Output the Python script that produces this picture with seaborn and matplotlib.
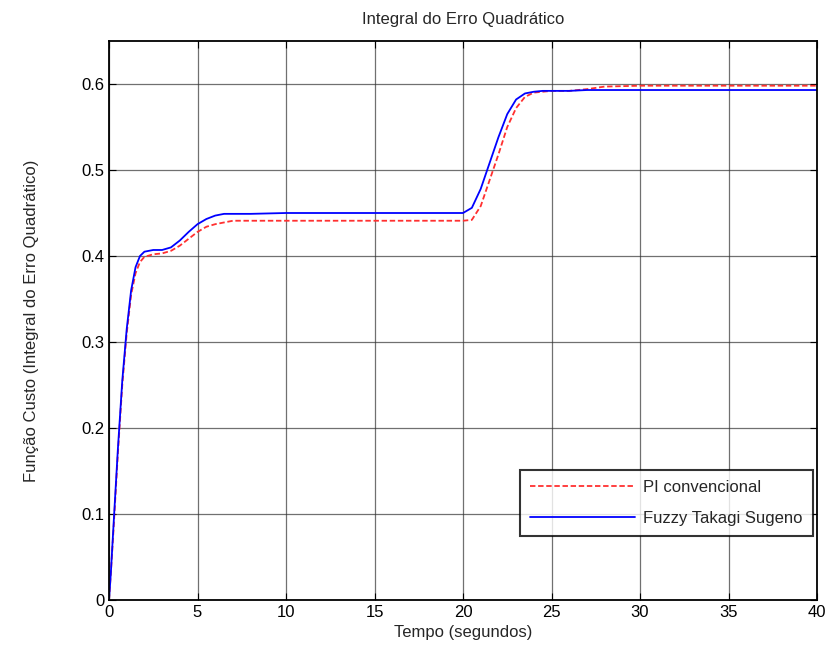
import numpy as np
import pandas as pd
import matplotlib
matplotlib.use("Agg")
import matplotlib.pyplot as plt
import seaborn as sns

# Data
tempo = [0, 0.1, 0.25, 0.5, 0.75, 1.0, 1.25, 1.5, 1.75, 2.0, 2.5, 3.0, 3.5, 4.0,
         4.5, 5.0, 5.5, 6.0, 6.5, 7.0, 8, 10, 15, 20, 20.5, 21, 21.5, 22, 22.5,
         23, 23.5, 24, 24.5, 25, 26, 27, 28, 30, 35, 40]
pi_convencional = [0, 0.03, 0.08, 0.17, 0.25, 0.31, 0.355, 0.38, 0.393, 0.399,
                   0.402, 0.403, 0.406, 0.412, 0.42, 0.428, 0.434, 0.437, 0.439,
                   0.441, 0.441, 0.441, 0.441, 0.441, 0.442, 0.458, 0.488, 0.518,
                   0.55, 0.572, 0.585, 0.59, 0.591, 0.592, 0.592, 0.594, 0.597,
                   0.598, 0.598, 0.598]
fuzzy_ts = [0, 0.03, 0.085, 0.175, 0.255, 0.315, 0.36, 0.387, 0.4, 0.405, 0.407,
            0.407, 0.41, 0.418, 0.428, 0.437, 0.443, 0.447, 0.449, 0.449, 0.449,
            0.450, 0.450, 0.450, 0.456, 0.478, 0.508, 0.538, 0.565, 0.582, 0.589,
            0.591, 0.592, 0.592, 0.592, 0.593, 0.593, 0.593, 0.593, 0.593]
series_names = ["PI convencional", "Fuzzy Takagi Sugeno"]
x_ticks = [0, 5, 10, 15, 20, 25, 30, 35, 40]
y_ticks = [0, 0.1, 0.2, 0.3, 0.4, 0.5, 0.6]
y_tick_labels = ["0", "0.1", "0.2", "0.3", "0.4", "0.5", "0.6"]

df = pd.DataFrame({
    "t": tempo + tempo,
    "v": pi_convencional + fuzzy_ts,
    "serie": [series_names[0]] * len(tempo) + [series_names[1]] * len(tempo),
})

sns.set_style("ticks")
plt.rcParams["font.family"] = ["Liberation Sans", "DejaVu Sans"]

fig = plt.figure(figsize=(8.3, 6.57), dpi=100)
ax = fig.add_axes([109 / 830, 57 / 657, (817 - 109) / 830, (600 - 41) / 657])

sns.lineplot(data=df, x="t", y="v", hue="serie", style="serie",
             palette={series_names[0]: "#ff3030", series_names[1]: "#0000ff"},
             dashes={series_names[0]: (3, 1.5), series_names[1]: ""},
             linewidth=1.3, ax=ax, legend=True)

ax.set_xlim(0, 40)
ax.set_ylim(0, 0.65)
ax.set_xticks(x_ticks)
ax.set_yticks(y_ticks)
ax.set_yticklabels(y_tick_labels)
ax.grid(True, color="#333333", linewidth=0.9, alpha=0.7)
ax.set_axisbelow(True)
ax.tick_params(direction="in", length=5, labelsize=12, colors="black", top=True, right=True)
for s in ax.spines.values():
    s.set_color("black")
    s.set_linewidth(1.3)

ax.set_title("Integral do Erro Quadrático", fontsize=12, pad=12)
ax.set_xlabel("Tempo (segundos)", fontsize=12, labelpad=4)
ax.set_ylabel("Função Custo (Integral do Erro Quadrático)", fontsize=12, labelpad=30)

handles, labels = ax.get_legend_handles_labels()
leg = ax.legend(handles, labels, loc="lower right", bbox_to_anchor=(0.994, 0.114),
                fontsize=12, frameon=True, fancybox=False, handlelength=6.3,
                handletextpad=0.5, borderpad=0.6, labelspacing=1.0, title=None,
                borderaxespad=0)
leg.get_frame().set_edgecolor("black")
leg.get_frame().set_linewidth(1.5)

fig.savefig("out.png", dpi=100)
